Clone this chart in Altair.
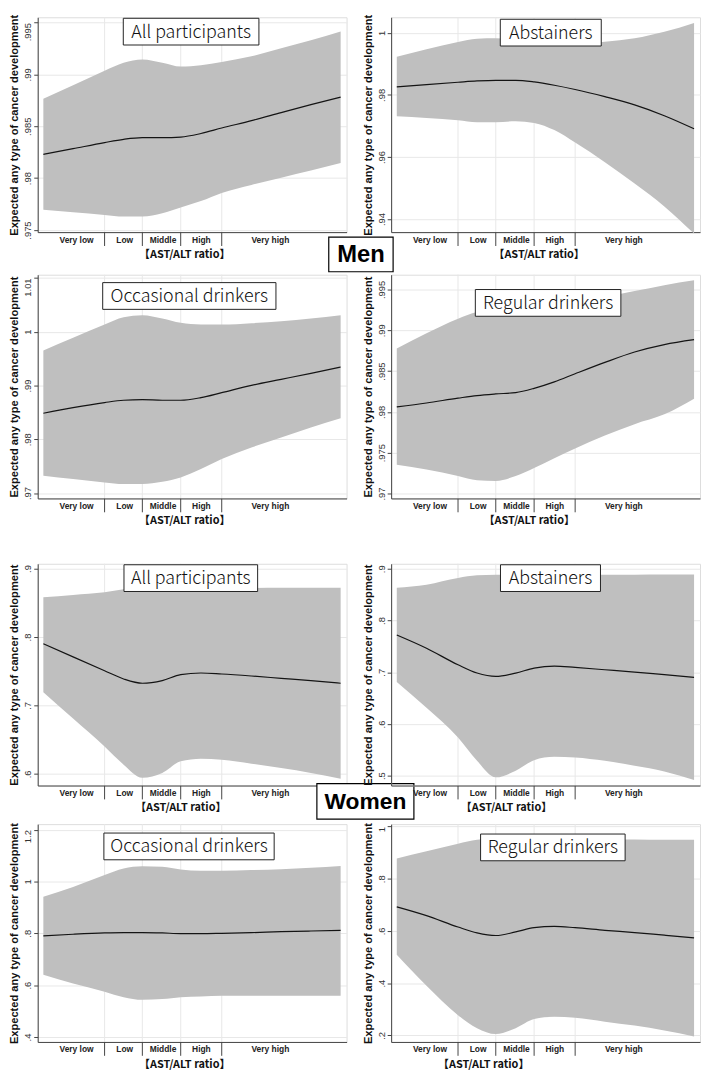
import altair as alt
import pandas as pd

# ------------------------------------------------------------------ data
X_POS = [0.0, 0.1, 0.206, 0.27, 0.333, 0.4, 0.462, 0.53, 0.6, 0.7, 0.8, 0.9, 1.0]
CATEGORIES = ["Very low", "Low", "Middle", "High", "Very high"]
CATEGORY_CENTERS = [0.11, 0.272, 0.401, 0.53, 0.762]
CATEGORY_BOUNDS = [0.206, 0.333, 0.462, 0.6]
PANEL_TITLES = ["All participants", "Abstainers", "Occasional drinkers", "Regular drinkers",
                "All participants", "Abstainers", "Occasional drinkers", "Regular drinkers"]
SEX_LABELS = ["Men", "Women"]
Y_TITLE = "Expected any type of cancer development"
X_TITLE = "【AST/ALT ratio】"

men_all_mean = [0.98229, 0.98284, 0.98343, 0.98374, 0.98390, 0.98390, 0.98396, 0.98430, 0.98483, 0.98554, 0.98632, 0.98709, 0.98781]
men_all_upper = [0.98765, 0.98895, 0.99035, 0.99112, 0.99143, 0.99112, 0.99075, 0.99088, 0.99119, 0.99174, 0.99252, 0.99329, 0.99413]
men_all_lower = [0.97695, 0.97671, 0.97646, 0.97630, 0.97630, 0.97661, 0.97717, 0.97779, 0.97857, 0.97934, 0.98005, 0.98074, 0.98145]

men_abs_mean = [0.98259, 0.98333, 0.98407, 0.98449, 0.98470, 0.98470, 0.98418, 0.98312, 0.98175, 0.97943, 0.97679, 0.97331, 0.96909]
men_abs_upper = [0.99230, 0.99473, 0.99705, 0.99810, 0.99821, 0.99768, 0.99684, 0.99652, 0.99652, 0.99715, 0.99821, 1.00032, 1.00317]
men_abs_lower = [0.97310, 0.97257, 0.97183, 0.97120, 0.97120, 0.97152, 0.97099, 0.96867, 0.96466, 0.95833, 0.95147, 0.94409, 0.93533]

men_occ_mean = [0.98484, 0.98589, 0.98682, 0.98725, 0.98737, 0.98725, 0.98725, 0.98774, 0.98867, 0.99003, 0.99114, 0.99226, 0.99343]
men_occ_upper = [0.99652, 0.99887, 1.00134, 1.00270, 1.00308, 1.00246, 1.00165, 1.00134, 1.00134, 1.00159, 1.00196, 1.00246, 1.00308]
men_occ_lower = [0.97322, 0.97260, 0.97198, 0.97167, 0.97167, 0.97210, 0.97291, 0.97445, 0.97631, 0.97847, 0.98032, 0.98218, 0.98391]

men_reg_mean = [0.98061, 0.98109, 0.98168, 0.98200, 0.98220, 0.98236, 0.98288, 0.98367, 0.98467, 0.98606, 0.98733, 0.98824, 0.98884]
men_reg_upper = [0.98777, 0.98963, 0.99142, 0.99222, 0.99262, 0.99289, 0.99301, 0.99321, 0.99353, 0.99409, 0.99480, 0.99552, 0.99611]
men_reg_lower = [0.97354, 0.97294, 0.97215, 0.97163, 0.97155, 0.97215, 0.97314, 0.97433, 0.97552, 0.97711, 0.97850, 0.97970, 0.98161]

women_all_mean = [0.79023, 0.77097, 0.75075, 0.73871, 0.73245, 0.73630, 0.74497, 0.74738, 0.74593, 0.74304, 0.73967, 0.73630, 0.73245]
women_all_upper = [0.85811, 0.86148, 0.86534, 0.86967, 0.87110, 0.87110, 0.87110, 0.87110, 0.87110, 0.87150, 0.87180, 0.87200, 0.87208]
women_all_lower = [0.71945, 0.68093, 0.64001, 0.61353, 0.59427, 0.60149, 0.61834, 0.62220, 0.62075, 0.61497, 0.60871, 0.60149, 0.59283]

women_abs_mean = [0.7720, 0.7464, 0.7144, 0.6984, 0.6920, 0.6984, 0.7080, 0.7118, 0.7093, 0.7048, 0.7003, 0.6952, 0.6901]
women_abs_upper = [0.8635, 0.8693, 0.8821, 0.8872, 0.8885, 0.8885, 0.8885, 0.8885, 0.8885, 0.8885, 0.8885, 0.8888, 0.8891]
women_abs_lower = [0.6811, 0.6312, 0.5736, 0.5288, 0.4968, 0.5096, 0.5301, 0.5365, 0.5352, 0.5288, 0.5192, 0.5083, 0.4917]

women_occ_mean = [0.7900, 0.7963, 0.8013, 0.8025, 0.8025, 0.8013, 0.7988, 0.7988, 0.8000, 0.8025, 0.8063, 0.8088, 0.8113]
women_occ_upper = [0.9413, 0.9788, 1.0250, 1.0500, 1.0588, 1.0563, 1.0463, 1.0413, 1.0413, 1.0438, 1.0475, 1.0525, 1.0600]
women_occ_lower = [0.6400, 0.6063, 0.5750, 0.5538, 0.5438, 0.5463, 0.5538, 0.5563, 0.5588, 0.5588, 0.5588, 0.5588, 0.5588]

women_reg_mean = [0.6925, 0.6588, 0.6150, 0.5925, 0.5825, 0.5963, 0.6125, 0.6175, 0.6125, 0.6025, 0.5938, 0.5838, 0.5738]
women_reg_upper = [0.8775, 0.9050, 0.9338, 0.9488, 0.9550, 0.9550, 0.9540, 0.9530, 0.9520, 0.9510, 0.9500, 0.9490, 0.9488]
women_reg_lower = [0.5088, 0.3900, 0.2775, 0.2275, 0.2050, 0.2275, 0.2625, 0.2713, 0.2675, 0.2525, 0.2375, 0.2188, 0.1963]

MEANS = [men_all_mean, men_abs_mean, men_occ_mean, men_reg_mean,
         women_all_mean, women_abs_mean, women_occ_mean, women_reg_mean]
UPPERS = [men_all_upper, men_abs_upper, men_occ_upper, men_reg_upper,
          women_all_upper, women_abs_upper, women_occ_upper, women_reg_upper]
LOWERS = [men_all_lower, men_abs_lower, men_occ_lower, men_reg_lower,
          women_all_lower, women_abs_lower, women_occ_lower, women_reg_lower]

Y_TICKS = [
    [0.975, 0.98, 0.985, 0.99, 0.995],
    [0.94, 0.96, 0.98, 1.0],
    [0.97, 0.98, 0.99, 1.0, 1.01],
    [0.97, 0.975, 0.98, 0.985, 0.99, 0.995],
    [0.6, 0.7, 0.8, 0.9],
    [0.5, 0.6, 0.7, 0.8, 0.9],
    [0.4, 0.6, 0.8, 1.0, 1.2],
    [0.2, 0.4, 0.6, 0.8, 1.0],
]
Y_DOMAINS = [
    [0.9748, 0.9955],
    [0.9358, 1.0050],
    [0.9690, 1.0106],
    [0.9694, 0.9968],
    [0.5830, 0.9070],
    [0.4810, 0.9096],
    [0.3810, 1.2210],
    [0.1750, 1.0090],
]

# ------------------------------------------------------------------ style
X_DOMAIN = [-0.019, 1.02]
W = 312
COL_GAP = 45
HEIGHTS = [217, 226, 224, 220]
ROW_GAPS = [0, 37, 0]
BOX_CX = [0.497, 0.518, 0.491, 0.509, 0.496, 0.517, 0.49, 0.525]
BOX_W = [137, 102, 175, 147, 135, 101, 172, 146]
BOX_TOP = [1, 2, 8, 15, 1, 1, 9, 10]
BOX_H = 27
XTITLE_X = [148, 149, 148, 139, 144, 116, 148, 93]
TOP_LABEL_INSIDE = [True, False, True, False, False, False, True, True]

BAND = "#bfbfbf"
LINE = "#141414"
AXIS = "#444444"
GRID = "#e8e8e8"
SANS = "Liberation Sans, Arial, sans-serif"
JP = "Noto Sans CJK JP, Noto Sans, sans-serif"


def xpix(v):
    return (v - X_DOMAIN[0]) / (X_DOMAIN[1] - X_DOMAIN[0]) * W


centers_js = "[" + ",".join(str(c) for c in CATEGORY_CENTERS) + "]"
names_js = "[" + ",".join("'" + n + "'" for n in CATEGORIES) + "]"
X_LABEL_EXPR = names_js + "[indexof(" + centers_js + ", datum.value)]"
Y_LABEL_EXPR = "replace(format(datum.value, '~g'), '0.', '.')"


def label_box(text, x1, x2, y1, y2, size):
    d = pd.DataFrame({"t": [text]})
    rect = alt.Chart(d).mark_rect(fill="white", stroke="black", strokeWidth=1.2).encode(
        x=alt.value(x1), x2=alt.value(x2), y=alt.value(y1), y2=alt.value(y2))
    txt = alt.Chart(d).mark_text(font=SANS, fontWeight="bold", fontSize=size,
                                 baseline="middle", align="center", color="black").encode(
        x=alt.value((x1 + x2) / 2), y=alt.value((y1 + y2) / 2 + 1), text="t:N")
    return [rect, txt]


def panel(i, height, extra=None):
    df = pd.DataFrame({"x": X_POS, "mean": MEANS[i], "lower": LOWERS[i], "upper": UPPERS[i]})
    bdf = pd.DataFrame({"x": CATEGORY_BOUNDS})
    xs = alt.Scale(domain=X_DOMAIN, nice=False, zero=False)
    ys = alt.Scale(domain=Y_DOMAINS[i], nice=False, zero=False)
    xaxis = alt.Axis(values=CATEGORY_CENTERS, labelExpr=X_LABEL_EXPR, ticks=False, tickSize=0,
                     grid=False, title=X_TITLE, labelFont=SANS, labelFontWeight="bold",
                     labelFontSize=8.5, labelColor="#222", labelPadding=3, titleFont=JP,
                     titleFontWeight="bold", titleFontSize=11, titleColor="#111",
                     titlePadding=5, titleX=XTITLE_X[i], titleAnchor="middle",
                     domainColor=AXIS, labelOverlap=False, labelFlush=False)
    if TOP_LABEL_INSIDE[i]:
        top_tick = max(Y_TICKS[i])
        label_align = {"condition": {"test": "datum.value >= %r" % (top_tick - 1e-9),
                                     "value": "right"},
                       "value": "center"}
    else:
        label_align = "center"
    yaxis = alt.Axis(values=Y_TICKS[i], labelExpr=Y_LABEL_EXPR, title=Y_TITLE, labelAngle=-90,
                     labelAlign=label_align, labelBaseline="bottom", labelFont=SANS,
                     labelFontSize=9.5, labelColor="#333", labelPadding=1, tickSize=4,
                     tickColor=AXIS, domainColor=AXIS, grid=True, gridColor=GRID,
                     titleFont=SANS, titleFontWeight="bold", titleFontSize=11.2,
                     titleColor="#111", titlePadding=3, labelOverlap=False)
    X = alt.X("x:Q", scale=xs, axis=xaxis)

    vgrid = alt.Chart(bdf).mark_rule(color=GRID, strokeWidth=1).encode(
        x=X, y=alt.value(0), y2=alt.value(height))
    band = alt.Chart(df).mark_area(color=BAND, opacity=1, interpolate="monotone").encode(
        x=X, y=alt.Y("lower:Q", scale=ys, axis=yaxis), y2="upper:Q")
    line = alt.Chart(df).mark_line(color=LINE, strokeWidth=1.2, interpolate="monotone").encode(
        x=X, y=alt.Y("mean:Q", scale=ys, axis=yaxis))
    seps = alt.Chart(bdf).mark_rule(color=AXIS, strokeWidth=1).encode(
        x=X, y=alt.value(height), y2=alt.value(height + 14))

    cx = xpix(BOX_CX[i])
    tdf = pd.DataFrame({"t": [PANEL_TITLES[i]]})
    box = alt.Chart(tdf).mark_rect(fill="white", stroke="#222", strokeWidth=1).encode(
        x=alt.value(cx - BOX_W[i] / 2), x2=alt.value(cx + BOX_W[i] / 2),
        y=alt.value(BOX_TOP[i]), y2=alt.value(BOX_TOP[i] + BOX_H))
    boxtxt = alt.Chart(tdf).mark_text(font=JP, fontWeight=300, fontSize=18, color="#111",
                                      align="center", baseline="middle").encode(
        x=alt.value(cx), y=alt.value(BOX_TOP[i] + BOX_H / 2 + 1), text="t:N")

    layers = [vgrid, band, line, seps, box, boxtxt]
    if extra:
        layers += extra
    return alt.layer(*layers).properties(width=W, height=height)


men_label = label_box(SEX_LABELS[0], 294, 359, 222, 257, 24)
women_label = label_box(SEX_LABELS[1], 282, 380, 222, 258, 23)

p = [
    panel(0, HEIGHTS[0], men_label),
    panel(1, HEIGHTS[0]),
    panel(2, HEIGHTS[1]),
    panel(3, HEIGHTS[1]),
    panel(4, HEIGHTS[2], women_label),
    panel(5, HEIGHTS[2]),
    panel(6, HEIGHTS[3]),
    panel(7, HEIGHTS[3]),
]

rows = [alt.hconcat(p[2 * k], p[2 * k + 1], spacing=COL_GAP, bounds="flush") for k in range(4)]
men = alt.vconcat(rows[0], rows[1], spacing=ROW_GAPS[0])
women = alt.vconcat(rows[2], rows[3], spacing=ROW_GAPS[2])
chart = alt.vconcat(men, women, spacing=ROW_GAPS[1], padding=0).configure_view(
    strokeWidth=0).configure(background="white")

chart.save("out.html", embed_options={"renderer": "svg", "actions": False})
